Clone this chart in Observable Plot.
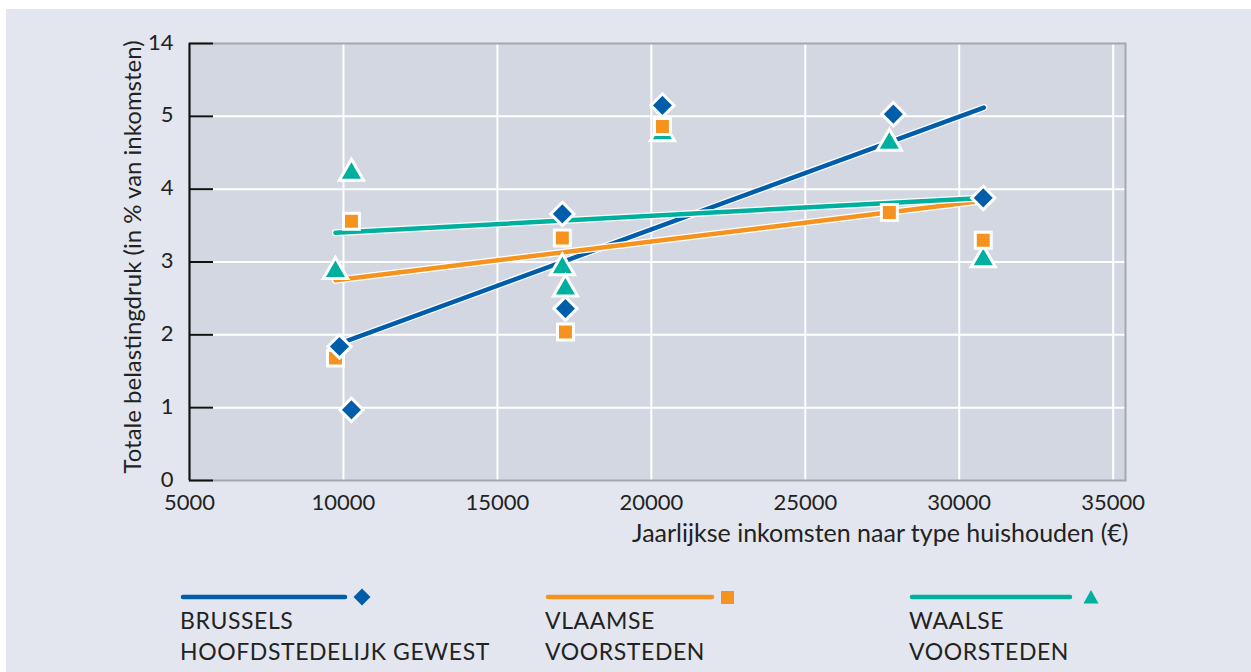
<!DOCTYPE html>
<html>
<head>
<meta charset="utf-8">
<script src="https://cdn.jsdelivr.net/npm/d3@7"></script>
<script src="https://cdn.jsdelivr.net/npm/@observablehq/plot@0.6"></script>
<style>
  html, body { margin: 0; padding: 0; background: #ffffff; }
  #panel { position: absolute; left: 6px; top: 9px; width: 1245px; height: 663px; background: #e3e6ee; font-family: Lato, "Open Sans", sans-serif; color: #222; }
  #chart { position: absolute; left: 0; top: 0; }
  .leg { position: absolute; top: 575px; font-size: 23px; line-height: 31px; letter-spacing: 0.6px; color: #222; }
  .leg svg { display: block; }
</style>
</head>
<body>
<div id="panel">
  <div id="chart"></div>
  <div id="legend"></div>
</div>
<script>
// ---- data ----
const seriesNames = ["BRUSSELS HOOFDSTEDELIJK GEWEST", "VLAAMSE VOORSTEDEN", "WAALSE VOORSTEDEN"];
const seriesLines = [["BRUSSELS", "HOOFDSTEDELIJK GEWEST"], ["VLAAMSE", "VOORSTEDEN"], ["WAALSE", "VOORSTEDEN"]];
const seriesColors = ["#005daa", "#f6921e", "#00b09f"];
const seriesSymbols = ["diamond2", "square", "triangle"];

const brusselsX = [10260, 9870, 17110, 17210, 20360, 27860, 30780];
const brusselsY = [0.97, 1.84, 3.66, 2.36, 5.15, 5.03, 3.88];
const vlaamseX = [9740, 10260, 17110, 17210, 20360, 27730, 30780];
const vlaamseY = [1.68, 3.56, 3.33, 2.04, 4.86, 3.68, 3.30];
const waalseX = [9740, 10260, 17110, 17210, 20360, 27730, 30780];
const waalseY = [2.87, 4.22, 2.92, 2.63, 4.76, 4.63, 3.03];

const brusselsTrendX = [9870, 30800];
const brusselsTrendY = [1.88, 5.12];
const vlaamseTrendX = [9740, 30780];
const vlaamseTrendY = [2.75, 3.84];
const waalseTrendX = [9740, 30780];
const waalseTrendY = [3.40, 3.88];

const xTicks = [5000, 10000, 15000, 20000, 25000, 30000, 35000];
const xGrid = [10000, 15000, 20000, 25000, 30000, 35000];
const yTicks = [0, 1, 2, 3, 4, 5, 6];
const yTickLabels = ["0", "1", "2", "3", "4", "5", "14"];
const yGrid = [1, 2, 3, 4, 5];
const xDomain = [5000, 35400];
const yDomain = [0, 6];
const xLabel = "Jaarlijkse inkomsten naar type huishouden (€)";
const yLabel = "Totale belastingdruk (in % van inkomsten)";

// ---- build tables ----
const pointsX = [brusselsX, vlaamseX, waalseX];
const pointsY = [brusselsY, vlaamseY, waalseY];
const trendX = [brusselsTrendX, vlaamseTrendX, waalseTrendX];
const trendY = [brusselsTrendY, vlaamseTrendY, waalseTrendY];

const points = seriesNames.map((s, i) => pointsX[i].map((x, j) => ({series: s, x, y: pointsY[i][j]})));
const trends = seriesNames.map((s, i) => trendX[i].map((x, j) => ({series: s, x, y: trendY[i][j]})));

const W = 1245, H = 555;
const mL = 183, mT = 34, mR = 126, mB = 84;
const plotW = W - mL - mR;

const marks = [
  Plot.frame({fill: "#d3d7e1", stroke: null}),
  Plot.gridX(xGrid, {stroke: "#ffffff", strokeOpacity: 1, strokeWidth: 2}),
  Plot.gridY(yGrid, {stroke: "#ffffff", strokeOpacity: 1, strokeWidth: 2}),
  Plot.frame({stroke: "#a3a7af", strokeWidth: 2}),
  Plot.ruleX([xDomain[0]], {stroke: "#111", strokeWidth: 2}),
  Plot.ruleY(yTicks, {stroke: "#111", strokeWidth: 2, insetRight: plotW - 24}),
  Plot.axisX(xTicks, {tickSize: 0, tickPadding: 14, fontSize: 22, tickFormat: d => String(d), label: null}),
  Plot.axisY(yTicks, {tickSize: 0, tickPadding: 16, fontSize: 22, dy: -1, tickFormat: d => yTickLabels[yTicks.indexOf(d)], label: null}),
  Plot.text([xLabel], {frameAnchor: "bottom-right", textAnchor: "end", dx: 3, dy: 61, fontSize: 25, fill: "#222"}),
  Plot.text([yLabel], {frameAnchor: "left", textAnchor: "middle", rotate: -90, dx: -56, dy: -5, fontSize: 24, fill: "#222"})
];
// trend lines (white halo + colour)
trends.forEach((t, i) => {
  marks.push(Plot.line(t, {x: "x", y: "y", stroke: "#ffffff", strokeWidth: 7, strokeLinecap: "round"}));
  marks.push(Plot.line(t, {x: "x", y: "y", stroke: seriesColors[i], strokeWidth: 4.5, strokeLinecap: "round"}));
});
// markers: triangles, squares, diamonds
const markerR = [10.5, 9, 9];
[2, 1, 0].forEach(i => {
  marks.push(Plot.dot(points[i], {x: "x", y: "y", symbol: seriesSymbols[i], r: markerR[i], fill: seriesColors[i], stroke: "#ffffff", strokeWidth: 3, strokeLinejoin: "miter"}));
});

const chart = Plot.plot({
  width: W, height: H,
  marginLeft: mL, marginTop: mT, marginRight: mR, marginBottom: mB,
  style: {background: "transparent", fontFamily: "Lato, 'Open Sans', sans-serif", fontSize: "22px", color: "#222"},
  x: {domain: xDomain, type: "linear"},
  y: {domain: yDomain, type: "linear"},
  marks
});
document.getElementById("chart").appendChild(chart);

// ---- legend ----
const legX = [174, 539, 903];
const lineEnd = [165, 167, 161];
const legend = document.getElementById("legend");
seriesNames.forEach((s, i) => {
  const d = document.createElement("div");
  d.className = "leg";
  d.style.left = legX[i] + "px";
  const sym = seriesSymbols[i];
  const c = seriesColors[i];
  let shape = "";
  if (sym === "diamond2") shape = `<path d="M182,4.5 l8.5,8.5 l-8.5,8.5 l-8.5,-8.5z" fill="${c}"/>`;
  if (sym === "square") shape = `<rect x="176" y="7" width="13" height="13" fill="${c}"/>`;
  if (sym === "triangle") shape = `<path d="M182,6 l7.5,13.5 l-15,0z" fill="${c}"/>`;
  d.innerHTML = `<svg width="200" height="21" style="overflow:visible"><line x1="3" x2="${lineEnd[i]}" y1="13" y2="13" stroke="${c}" stroke-width="4.5" stroke-linecap="round"/>${shape}</svg>` +
    seriesLines[i].map(t => `<div>${t}</div>`).join("");
  legend.appendChild(d);
});
</script>
</body>
</html>
